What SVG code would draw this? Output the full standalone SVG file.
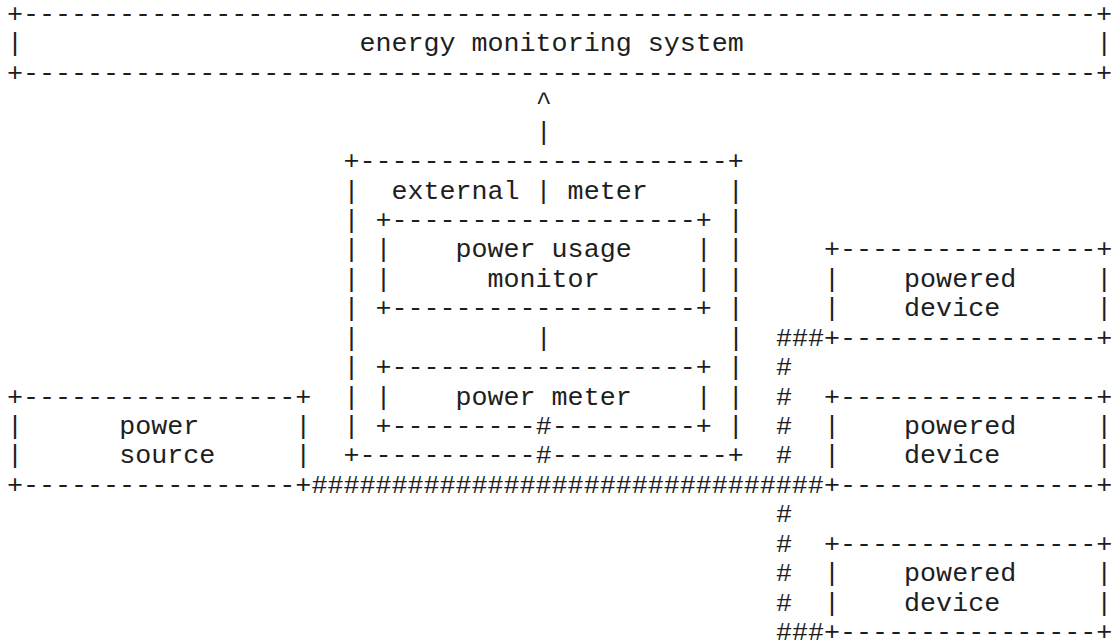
<svg xmlns="http://www.w3.org/2000/svg" width="1114" height="642" viewBox="0 0 1114 642">
  <style>
    text { font-family: "Liberation Mono", "Courier New", monospace; font-size: 26.7px; fill: #1e1e1e; white-space: pre; }
  </style>
  <rect width="1114" height="642" fill="#ffffff"/>

  <!-- column x = 7 + 16.02*c, row baseline y = 22 + 29.43*r -->

  <g id="energy-monitoring-system">
    <text x="7" y="22" xml:space="preserve">+-------------------------------------------------------------------+</text>
    <text x="7" y="51.43">|</text>
    <text x="359.44" y="51.43" xml:space="preserve">energy monitoring system</text>
    <text x="1096.36" y="51.43">|</text>
    <text x="7" y="80.86" xml:space="preserve">+-------------------------------------------------------------------+</text>
  </g>

  <g id="external-meter">
    <text x="343.42" y="169.15" xml:space="preserve">+-----------------------+</text>
    <text x="343.42" y="198.58" xml:space="preserve">|  external | meter     |</text>
    <text x="343.42" y="228.01" xml:space="preserve">| +-------------------+ |</text>
    <text x="343.42" y="257.44" xml:space="preserve">| |    power usage    | |</text>
    <text x="343.42" y="286.87" xml:space="preserve">| |      monitor      | |</text>
    <text x="343.42" y="316.3" xml:space="preserve">| +-------------------+ |</text>
    <text x="343.42" y="345.73">|</text>
    <text x="727.9" y="345.73">|</text>
    <text x="343.42" y="375.16" xml:space="preserve">| +-------------------+ |</text>
    <text x="343.42" y="404.59" xml:space="preserve">| |    power meter    | |</text>
    <text x="343.42" y="434.02" xml:space="preserve">| +---------</text>
    <text x="551.68" y="434.02" xml:space="preserve">---------+ |</text>
    <text x="343.42" y="463.45" xml:space="preserve">+-----------</text>
    <text x="551.68" y="463.45" xml:space="preserve">-----------+</text>
  </g>

  <g id="power-source">
    <text x="7" y="404.59" xml:space="preserve">+-----------------+</text>
    <text x="7" y="434.02">|</text>
    <text x="119.14" y="434.02">power</text>
    <text x="295.36" y="434.02">|</text>
    <text x="7" y="463.45">|</text>
    <text x="119.14" y="463.45">source</text>
    <text x="295.36" y="463.45">|</text>
    <text x="7" y="492.88" xml:space="preserve">+-----------------+</text>
  </g>

  <g id="powered-device-1">
    <text x="824.02" y="257.44" xml:space="preserve">+----------------+</text>
    <text x="824.02" y="286.87" xml:space="preserve">|    powered     |</text>
    <text x="824.02" y="316.3" xml:space="preserve">|    device      |</text>
    <text x="824.02" y="345.73" xml:space="preserve">+----------------+</text>
  </g>

  <g id="powered-device-2">
    <text x="824.02" y="404.59" xml:space="preserve">+----------------+</text>
    <text x="824.02" y="434.02" xml:space="preserve">|    powered     |</text>
    <text x="824.02" y="463.45" xml:space="preserve">|    device      |</text>
    <text x="824.02" y="492.88" xml:space="preserve">+----------------+</text>
  </g>

  <g id="powered-device-3">
    <text x="824.02" y="551.74" xml:space="preserve">+----------------+</text>
    <text x="824.02" y="581.17" xml:space="preserve">|    powered     |</text>
    <text x="824.02" y="610.6" xml:space="preserve">|    device      |</text>
    <text x="824.02" y="640.03" xml:space="preserve">+----------------+</text>
  </g>

  <g id="connectors">
    <!-- meter reports up to the monitoring system -->
    <text x="535.66" y="110.29">^</text>
    <text x="535.66" y="139.72">|</text>
    <!-- monitor to meter inside the external meter -->
    <text x="535.66" y="345.73">|</text>
    <!-- power path -->
    <text x="535.66" y="434.02">#</text>
    <text x="535.66" y="463.45">#</text>
    <text x="311.38" y="492.88">################################</text>
    <text x="775.96" y="345.73">###</text>
    <text x="775.96" y="375.16">#</text>
    <text x="775.96" y="404.59">#</text>
    <text x="775.96" y="434.02">#</text>
    <text x="775.96" y="463.45">#</text>
    <text x="775.96" y="522.31">#</text>
    <text x="775.96" y="551.74">#</text>
    <text x="775.96" y="581.17">#</text>
    <text x="775.96" y="610.6">#</text>
    <text x="775.96" y="640.03">###</text>
  </g>
</svg>
